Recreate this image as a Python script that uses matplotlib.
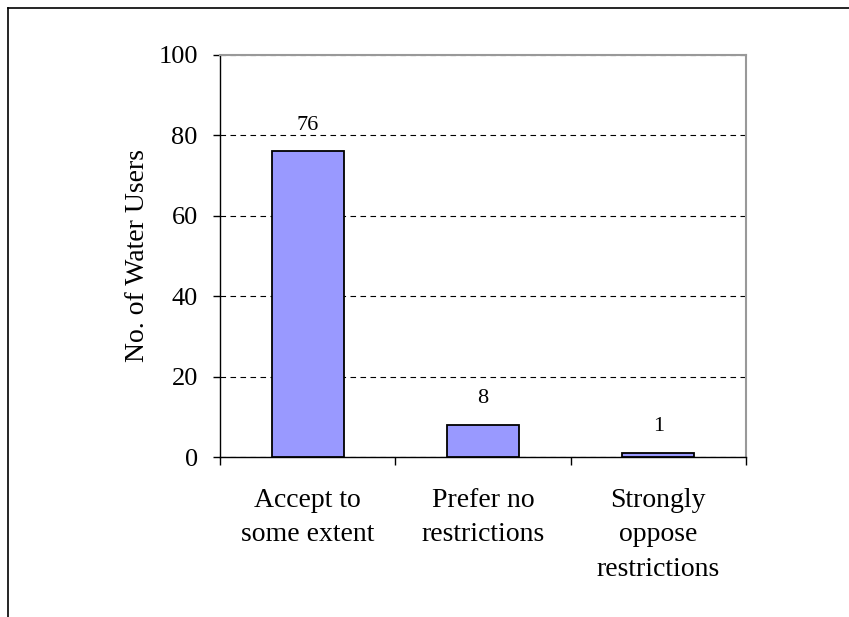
import matplotlib
matplotlib.use("Agg")
import matplotlib.pyplot as plt
from matplotlib.lines import Line2D

categories = ["Accept to\nsome extent", "Prefer no\nrestrictions", "Strongly\noppose\nrestrictions"]
users = [76, 8, 1]
y_ticks = [0, 20, 40, 60, 80, 100]

plt.rcParams["font.family"] = ["Liberation Serif", "DejaVu Serif"]

fig = plt.figure(figsize=(8.49, 6.17), dpi=100)
ax = fig.add_axes([0.2591, 0.2593, 0.6196, 0.6516])

x = list(range(len(categories)))
bars = ax.bar(x, users, width=0.41, color="#9999FF", edgecolor="black", linewidth=1.3, zorder=3)

for xi, v in zip(x, users):
    ax.annotate(str(v), (xi, v), xytext=(0, 12), textcoords="offset points",
                ha="center", va="bottom", fontsize=16)

ax.set_xlim(-0.5, len(categories) - 0.5)
ax.set_ylim(0, 100)
ax.set_yticks(y_ticks)
ax.tick_params(axis="y", labelsize=19, direction="out", length=5, width=1, pad=11)
ax.yaxis.grid(True, linestyle=(0, (5, 4)), color="black", linewidth=0.8, zorder=0)

ax.set_xticks(x)
ax.set_xticklabels(categories, fontsize=20, linespacing=1.5)
ax.tick_params(axis="x", which="major", length=0, pad=22)
ax.set_xticks([i - 0.5 for i in range(len(categories) + 1)], minor=True)
ax.tick_params(axis="x", which="minor", length=6, width=1, direction="out")

ax.set_ylabel("No. of Water Users", fontsize=20, labelpad=6)

for side in ("top", "right"):
    ax.spines[side].set_color("#999999")
    ax.spines[side].set_linewidth(1.5)
for side in ("left", "bottom"):
    ax.spines[side].set_color("black")
    ax.spines[side].set_linewidth(1)

# outer frame of the chart area
fig.add_artist(Line2D([0.0100, 1.0], [0.9870, 0.9870], color="black", linewidth=1.2,
                      transform=fig.transFigure))
fig.add_artist(Line2D([0.0100, 0.0100], [0.0, 0.9870], color="black", linewidth=1.2,
                      transform=fig.transFigure))

fig.savefig("out.png", dpi=100)
